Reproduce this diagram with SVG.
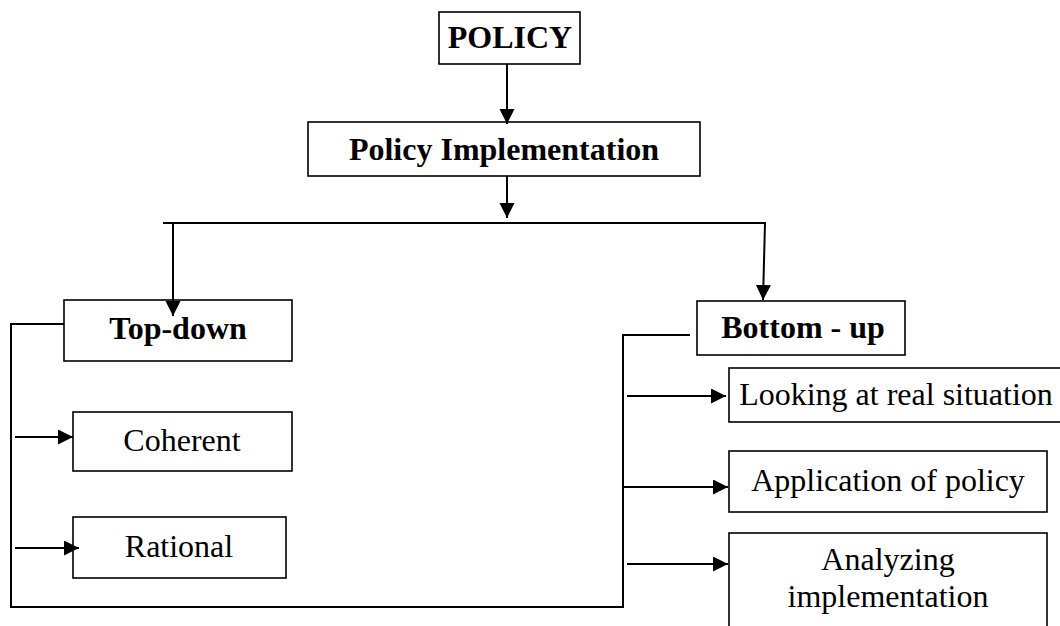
<svg xmlns="http://www.w3.org/2000/svg" width="1060" height="626" viewBox="0 0 1060 626">
<style>
.box{fill:#fff;stroke:#000;stroke-width:1.6}
.b{font-family:"Liberation Serif","Times New Roman",serif;font-weight:bold;font-size:32px;fill:#000;text-anchor:middle}
.r{font-family:"Liberation Serif","Times New Roman",serif;font-size:32px;fill:#000;text-anchor:middle}
.ln{fill:none;stroke:#000;stroke-width:2}
</style>
<defs>
<marker id="ah" markerUnits="userSpaceOnUse" markerWidth="16" markerHeight="16" refX="15" refY="7.5" orient="auto">
<path d="M0,0 L15,7.5 L0,15 z" fill="#000"/>
</marker>
</defs>
<rect width="1060" height="626" fill="#fff"/>
<g id="policy">
<rect class="box" x="439" y="12" width="141" height="52"/>
<text class="b" x="510" y="48">POLICY</text>
</g>
<g id="policy-implementation">
<rect class="box" x="308" y="122" width="392" height="54"/>
<text class="b" x="504" y="160">Policy Implementation</text>
</g>
<g id="top-down">
<rect class="box" x="64" y="300" width="228" height="61"/>
<text class="b" x="178" y="339">Top-down</text>
</g>
<g id="bottom-up">
<rect class="box" x="697" y="301" width="208" height="54"/>
<text class="b" x="803" y="338">Bottom - up</text>
</g>
<g id="coherent">
<rect class="box" x="73" y="412" width="219" height="59"/>
<text class="r" x="182" y="451">Coherent</text>
</g>
<g id="rational">
<rect class="box" x="73" y="517" width="213" height="61"/>
<text class="r" x="179" y="557">Rational</text>
</g>
<g id="looking">
<rect class="box" x="729" y="368" width="340" height="54"/>
<text class="r" x="896" y="405">Looking at real situation</text>
</g>
<g id="application">
<rect class="box" x="729" y="451" width="318" height="61"/>
<text class="r" x="888" y="491">Application of policy</text>
</g>
<g id="analyzing">
<rect class="box" x="729" y="533" width="318" height="110"/>
<text class="r" x="888" y="570">Analyzing</text>
<text class="r" x="888" y="607">implementation</text>
</g>
<g id="connectors">
<line class="ln" x1="507" y1="64" x2="507" y2="124" marker-end="url(#ah)"/>
<line class="ln" x1="507" y1="176" x2="507" y2="218" marker-end="url(#ah)"/>
<line class="ln" x1="163" y1="223" x2="766" y2="223"/>
<line class="ln" x1="173" y1="223" x2="173" y2="316" marker-end="url(#ah)"/>
<line class="ln" x1="765" y1="223" x2="763" y2="300" marker-end="url(#ah)"/>
<polyline class="ln" points="64,324 11,324 11,607 623,607 623,335 690,335"/>
<line class="ln" x1="15" y1="437" x2="73" y2="437" marker-end="url(#ah)"/>
<line class="ln" x1="15" y1="548" x2="79" y2="548" marker-end="url(#ah)"/>
<line class="ln" x1="627" y1="396" x2="726" y2="396" marker-end="url(#ah)"/>
<line class="ln" x1="623" y1="487" x2="728" y2="487" marker-end="url(#ah)"/>
<line class="ln" x1="627" y1="564" x2="728" y2="564" marker-end="url(#ah)"/>
</g>
</svg>
